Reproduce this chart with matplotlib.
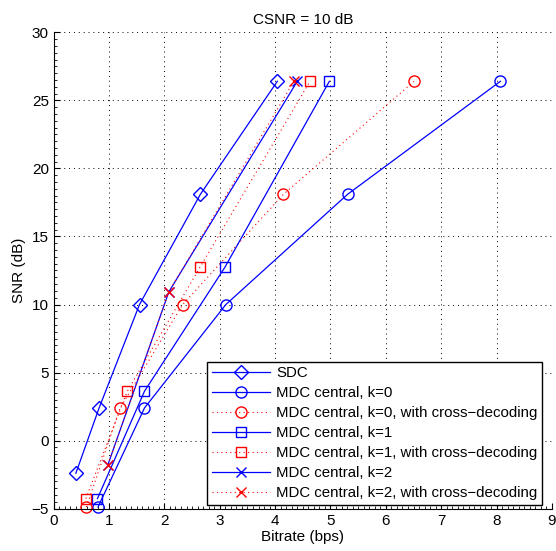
import matplotlib
matplotlib.use('Agg')
import matplotlib.pyplot as plt
from matplotlib.ticker import AutoMinorLocator

plt.rcParams['font.family'] = ['Liberation Sans', 'DejaVu Sans']
plt.rcParams['font.size'] = 10

# SNR levels (dB) and bitrates (bps) for each scheme
snr_sdc = [-2.4, 2.4, 10.0, 18.1, 26.4]
rate_sdc = [0.40, 0.82, 1.55, 2.65, 4.04]

snr_k0 = [-4.88, 2.4, 10.0, 18.1, 26.4]
rate_k0 = [0.80, 1.64, 3.11, 5.31, 8.07]
rate_k0_cross = [0.59, 1.20, 2.33, 4.15, 6.51]

snr_k1 = [-4.26, 3.63, 12.72, 26.4]
rate_k1 = [0.79, 1.64, 3.09, 4.98]
rate_k1_cross = [0.58, 1.33, 2.64, 4.63]

snr_k2 = [-1.76, 10.93, 26.4]
rate_k2 = [0.98, 2.08, 4.40]
rate_k2_cross = [0.98, 2.08, 4.34]

fig = plt.figure(figsize=(5.56, 5.51), dpi=100)
ax = fig.add_axes([0.0966, 0.0768, 0.896, 0.8646])

blue = (0, 0, 1)
red = (1, 0, 0)
ms = 8
lw = 0.9
dots = (0, (1, 3))

ax.plot(rate_sdc, snr_sdc, '-', color=blue, marker='D', ms=7, mfc='none', lw=lw,
        clip_on=False, label='SDC')
ax.plot(rate_k0, snr_k0, '-', color=blue, marker='o', ms=ms, mfc='none', lw=lw,
        clip_on=False, label='MDC central, k=0')
ax.plot(rate_k0_cross, snr_k0, color=red, ls=dots, marker='o', ms=ms, mfc='none', lw=0.8,
        clip_on=False, label='MDC central, k=0, with cross\u2212decoding')
ax.plot(rate_k1, snr_k1, '-', color=blue, marker='s', ms=7.5, mfc='none', lw=lw,
        clip_on=False, label='MDC central, k=1')
ax.plot(rate_k1_cross, snr_k1, color=red, ls=dots, marker='s', ms=7.5, mfc='none', lw=0.8,
        clip_on=False, label='MDC central, k=1, with cross\u2212decoding')
ax.plot(rate_k2, snr_k2, '-', color=blue, marker='x', ms=6.5, lw=lw,
        clip_on=False, label='MDC central, k=2')
ax.plot(rate_k2_cross, snr_k2, color=red, ls=dots, marker='x', ms=6.5, lw=0.8,
        clip_on=False, label='MDC central, k=2, with cross\u2212decoding')

ax.set_xlim(0, 9)
ax.set_ylim(-5, 30)
ax.set_xticks(range(0, 10))
ax.set_yticks(range(-5, 31, 5))
ax.xaxis.set_minor_locator(AutoMinorLocator(10))
ax.yaxis.set_minor_locator(AutoMinorLocator(10))
ax.tick_params(which='both', direction='in', top=False, right=False)
ax.tick_params(which='major', length=4, width=0.8, labelsize=11)
ax.tick_params(which='minor', length=2, width=0.6)

ax.grid(True, which='major', linestyle=(0, (1, 4)), color='black', lw=0.7)
ax.spines['top'].set_visible(False)
ax.spines['right'].set_visible(False)

ax.set_title('CSNR = 10 dB', fontsize=11, pad=6)
ax.set_xlabel('Bitrate (bps)', fontsize=11, labelpad=2)
ax.set_ylabel('SNR (dB)', fontsize=11, labelpad=4)

leg = ax.legend(loc='lower right', bbox_to_anchor=(0.98, 0.008), borderaxespad=0,
                fancybox=False, edgecolor='black', framealpha=1, handlelength=3.9,
                fontsize=10.8, labelspacing=0.4, borderpad=0.3, handletextpad=0.4)
leg.get_frame().set_linewidth(1.0)

fig.savefig('out.png', dpi=100)
